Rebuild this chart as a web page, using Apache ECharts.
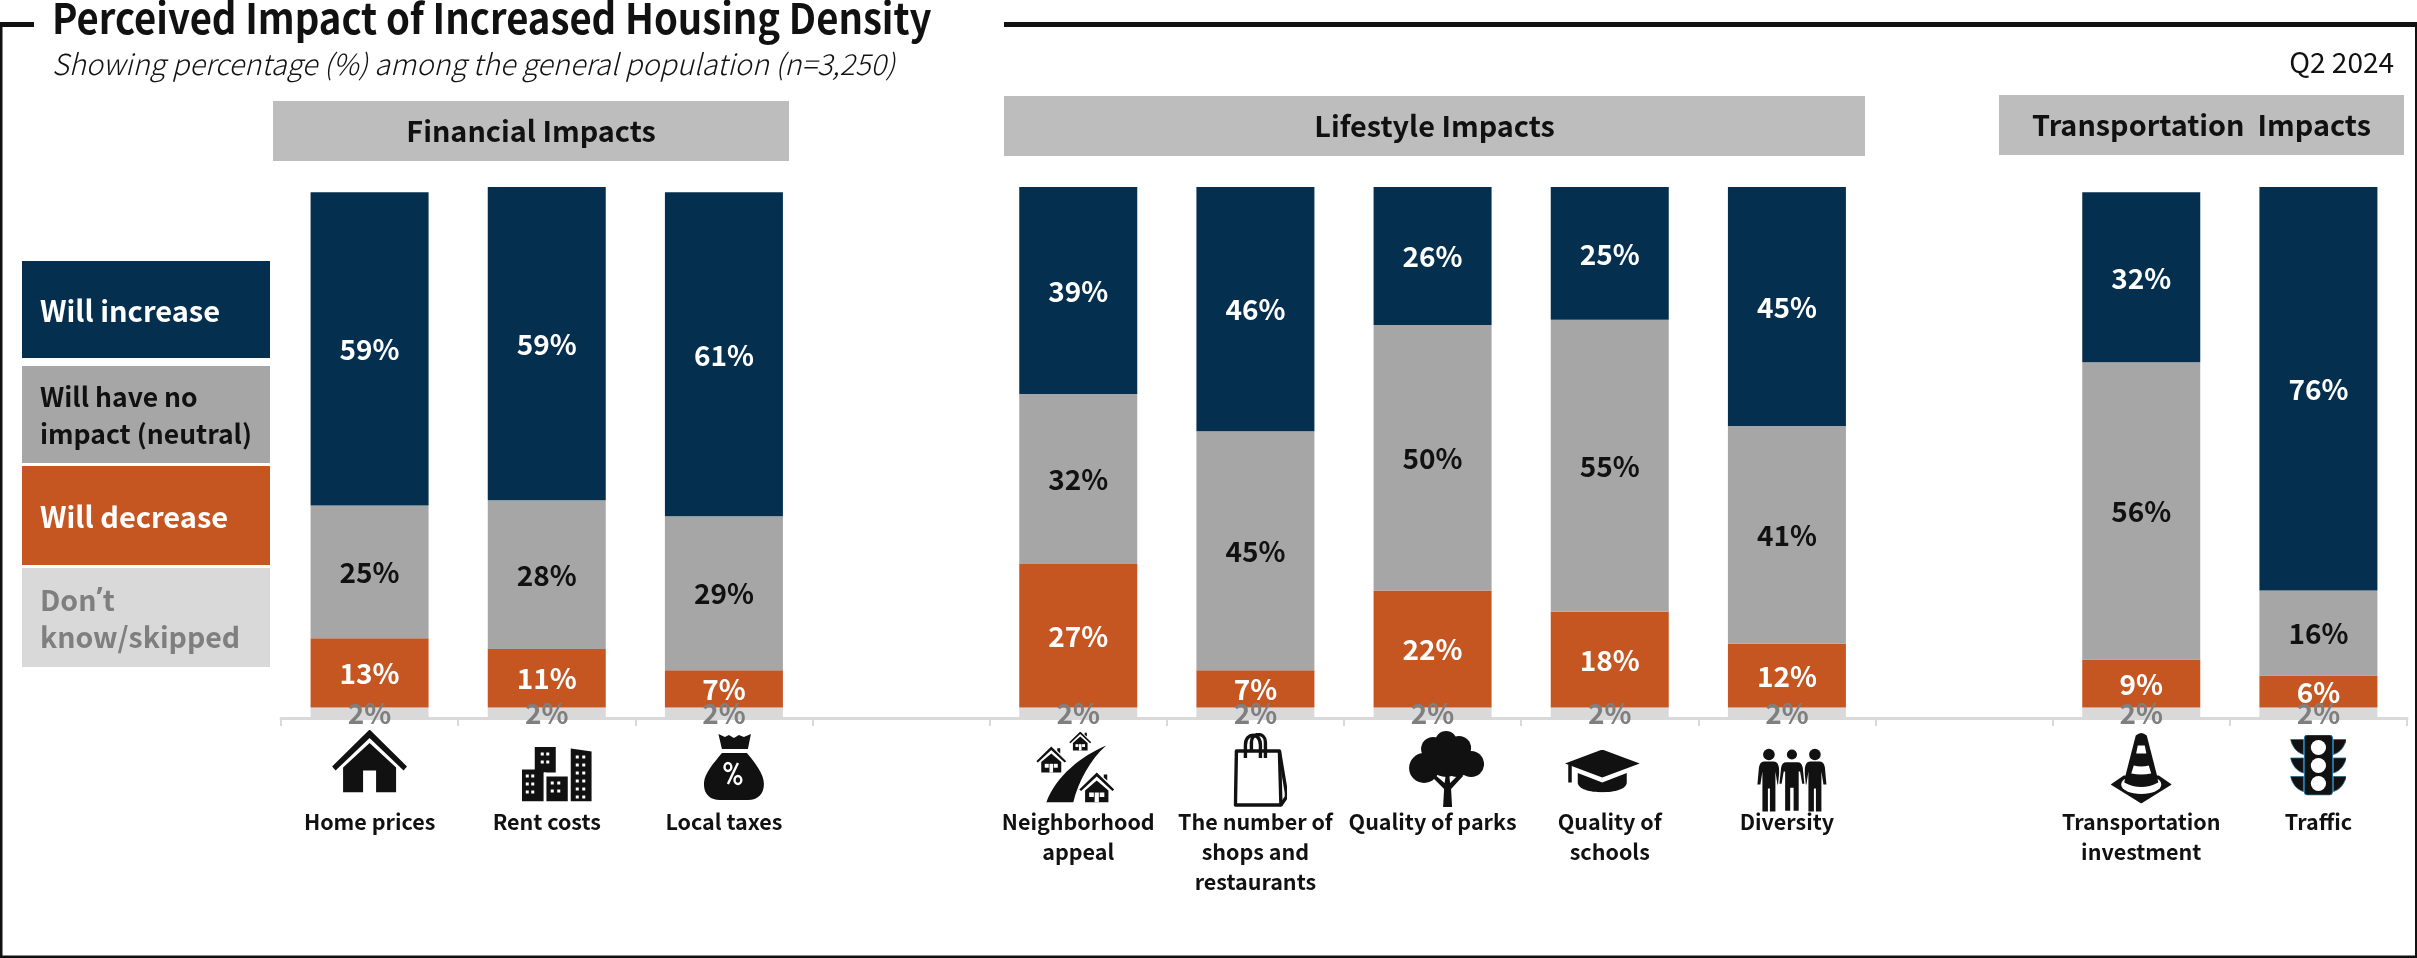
<!DOCTYPE html>
<html>
<head>
<meta charset="utf-8">
<style>html,body{margin:0;padding:0;background:#fff}#chart{width:2417px;height:958px}</style>
<script src="https://cdn.jsdelivr.net/npm/echarts@6/dist/echarts.min.js"></script>
</head>
<body>
<div id="chart"></div>
<script>
// Survey answers per topic; empty strings are spacer slots between the three topic groups.
const categories = ['Home prices', 'Rent costs', 'Local taxes', '',
  'Neighborhood\nappeal', 'The number of\nshops and\nrestaurants', 'Quality of parks', 'Quality of\nschools', 'Diversity', '',
  'Transportation\ninvestment', 'Traffic'];
const skipped  = [2, 2, 2, null, 2, 2, 2, 2, 2, null, 2, 2];
const decrease = [13, 11, 7, null, 27, 7, 22, 18, 12, null, 9, 6];
const neutral  = [25, 28, 29, null, 32, 45, 50, 55, 41, null, 56, 16];
const increase = [59, 59, 61, null, 39, 46, 26, 25, 45, null, 32, 76];

const seriesNames = ['Don’t know/skipped', 'Will decrease', 'Will have no impact (neutral)', 'Will increase'];
const FONT = '"Noto Sans CJK SC", "Noto Sans", sans-serif';
const INK = '#111111';
const NAVY = '#042f4f', GREY = '#a6a6a6', RUST = '#c55622', PALE = '#d9d9d9', MUTED = '#7f7f7f', BAND = '#bdbdbd';

// --- Topic icons, drawn as small inline SVGs ---
function svgIcon(w, h, body) {
  const svg = `<svg xmlns="http://www.w3.org/2000/svg" width="${w}" height="${h}" viewBox="0 0 ${w} ${h}" fill="${INK}">${body}</svg>`;
  return 'image://data:image/svg+xml;charset=utf-8,' + encodeURIComponent(svg);
}
function grid(x0, y0, dx, dy, nx, ny, s) {
  let out = '';
  for (let i = 0; i < nx; i++) for (let j = 0; j < ny; j++)
    out += `<rect x="${x0 + i * dx}" y="${y0 + j * dy}" width="${s}" height="${s}" fill="#fff"/>`;
  return out;
}
function cottage(x, y, w, h) {
  return `<g transform="translate(${x} ${y}) scale(${w / 30} ${h / 30})">
    <path d="M15 0L30 17l-1.6 1.6L15 4 1.6 18.6 0 17z"/>
    <path d="M21 2h3v6l-3-3z"/>
    <path d="M15 8L25 18V30H5V18z"/>
    <rect x="8.5" y="20" width="4" height="4.5" fill="#fff"/><rect x="17.5" y="20" width="4" height="4.5" fill="#fff"/>
    <rect x="13.2" y="20" width="3.6" height="10" fill="#fff"/></g>`;
}
function person(cx, s) {
  return `<circle cx="${cx}" cy="6" r="5.8"/>
    <path d="M${cx - 5 * s} 13H${cx + 5 * s}Q${cx + 9 * s} 13 ${cx + 10 * s} 19L${cx + 11.5 * s} 36H${cx + 8.5 * s}L${cx + 6.5 * s} 23V63H${cx + 1}V40H${cx - 1}V63H${cx - 6.5 * s}V23L${cx - 8.5 * s} 36H${cx - 11.5 * s}L${cx - 10 * s} 19Q${cx - 9 * s} 13 ${cx - 5 * s} 13Z"/>`;
}
const visor = 'M0 0H13V15C6 13 2 7 0 0Z';
const trafficVisors = [5, 23.5, 42].map(y =>
  `<path d="${visor}" transform="translate(0 ${y})" stroke="#1d6a96" stroke-width=".8"/>
   <path d="${visor}" transform="translate(56 ${y}) scale(-1 1)" stroke="#1d6a96" stroke-width=".8"/>`).join('');

const icons = [
  { w: 75, h: 63, dx: 0, cy: 761, body: `
    <path d="M37.5 0L75 37 71.5 41 37.5 8.5 3.5 41 0 37z"/>
    <path fill-rule="evenodd" d="M37.5 13.5L64 38V63H11V38zM31 41V63H44V41z"/>` },
  { w: 70, h: 55, dx: 10, cy: 774, body: `
    <rect x="0" y="23" width="22" height="32"/><rect x="13" y="0" width="21" height="26"/>
    <rect x="24.5" y="30" width="21.5" height="25"/><path d="M49 2L70 5V55H49z"/>
    <rect x="22" y="26" width="2.5" height="29" fill="#fff"/>
    ${grid(19, 6, 5.5, 8, 2, 2, 3)}${grid(4, 28, 5.5, 8, 2, 3, 3)}
    ${grid(29, 35, 6.5, 8, 2, 2, 3)}${grid(54, 9, 6.5, 8, 2, 6, 3)}` },
  { w: 60, h: 66, dx: 10, cy: 767, body: `
    <path d="M14.5 0L21 3 25 1 30 4 35 1 40 3 47 0 44 15H18z"/>
    <path d="M18 19H43C52 30 60 40 60 50 60 60 54 66 44 66H16C6 66 0 60 0 50 0 40 9 30 18 19Z"/>
    <g fill="none" stroke="#fff" stroke-width="2.4"><ellipse cx="24" cy="33" rx="3.4" ry="4"/><ellipse cx="34" cy="46" rx="3.4" ry="4"/></g>
    <path d="M34 29L24 50" stroke="#fff" stroke-width="2.4"/>` },
  { w: 78, h: 71, dx: -3, cy: 767, body: `
    <path d="M70 14C46 24 20 44 10 71H37C42 50 54 28 70 14Z"/>
    ${cottage(33, 0, 22, 19)}${cottage(0, 15, 30, 26)}${cottage(43, 41, 35, 30)}` },
  { w: 54, h: 74, dx: 5, cy: 770, body: `
    <g fill="none" stroke="${INK}" stroke-width="3.4" stroke-linejoin="round">
    <path d="M3 18H46L47.5 72H2Z"/><path d="M46 18L53 60V64L47.5 72"/>
    <path d="M12 25V12C12 -1 27 -1 27 12V25"/><path d="M18 18V9C18 -1 32 -1 32 9V25"/></g>` },
  { w: 75, h: 76, dx: 14, cy: 769, body: `
    <circle cx="37" cy="11" r="11"/><circle cx="24" cy="18" r="12"/><circle cx="50" cy="17" r="12"/>
    <circle cx="15" cy="37" r="15"/><circle cx="62" cy="33" r="13"/><circle cx="37" cy="27" r="19"/><circle cx="48" cy="34" r="12"/>
    <path d="M34 76L35 58 22 45 25 43 35.5 52 37 42 40 42 41 52 50 43 54 45 42 58 43 76Z"/>` },
  { w: 76, h: 43, dx: -7, cy: 771, body: `
    <path d="M37.5 0L75 14 37.5 28 0 14Z"/>
    <rect x="3.5" y="15" width="3.5" height="18"/>
    <path d="M13 23.5L37.5 33 62 23.5V33C62 46 13 46 13 33Z"/>` },
  { w: 72, h: 65, dx: 5, cy: 780, body: `<g transform="translate(1 1)">${person(12, 1)}${person(58, 1)}
    <g stroke="#fff" stroke-width="1.4">${person(35, 1.15)}</g></g>` },
  { w: 61, h: 71, dx: 0, cy: 768, body: `
    <path d="M30.5 71L61 52 48 43H13L0 52Z"/>
    <ellipse cx="30.5" cy="52" rx="20" ry="9.5" fill="#fff"/>
    <path d="M25 3Q30.5 -2 36 3L46 42 47.5 50Q30.5 59 13.5 50L15 42Z"/>
    <path d="M27 13H34L35.6 21H25.4ZM23 33Q30.5 35 38 33L40.5 41Q30.5 43 20.5 41Z" fill="#fff"/>` },
  { w: 56, h: 61, dx: 0, cy: 765, body: `${trafficVisors}
    <rect x="14" y=".5" width="28" height="60" rx="3" stroke="#1d6a96" stroke-width="1"/>
    <circle cx="28" cy="13" r="7.6" fill="#fff"/><circle cx="28" cy="31" r="7.6" fill="#fff"/><circle cx="28" cy="49" r="7.6" fill="#fff"/>` }
];

const topicSlots = categories.map((c, i) => c ? i : -1).filter(i => i >= 0);
const BASE_Y = 718;
const iconData = topicSlots.map((slot, k) => {
  const ic = icons[k];
  return {
    value: [slot, 0],
    symbol: svgIcon(ic.w, ic.h, ic.body),
    symbolSize: [ic.w, ic.h],
    symbolOffset: [ic.dx, ic.cy - BASE_Y]
  };
});

function stackSeries(name, data, color, labelColor) {
  return {
    name, type: 'bar', stack: 'total', data, barWidth: 118,
    itemStyle: { color },
    emphasis: { disabled: true },
    label: {
      show: true, position: 'inside', formatter: '{c}%', offset: [0, 0.6],
      color: labelColor, fontFamily: FONT, fontWeight: 'bold', fontSize: 28
    }
  };
}

// --- Legend blocks, topic bands and frame ---
const legendBlocks = [
  { y: 261, h: 97, fill: NAVY, ink: '#fff', size: 29, text: 'Will increase' },
  { y: 366, h: 97, fill: GREY, ink: INK, size: 26.5, text: 'Will have no\nimpact (neutral)' },
  { y: 466, h: 99, fill: RUST, ink: '#fff', size: 29, text: 'Will decrease' },
  { y: 568, h: 99, fill: PALE, ink: MUTED, size: 28.5, parts: [['Don', '’', 't'], ['know/skipped']] }
];
const bands = [
  { x: 273, y: 101, w: 516, h: 60, text: 'Financial Impacts' },
  { x: 1004, y: 96, w: 861, h: 60, text: 'Lifestyle Impacts' },
  { x: 1999, y: 95, w: 405, h: 60, text: 'Transportation  Impacts' }
];
const frame = [
  { x: 0, y: 22, w: 34, h: 5 }, { x: 1004, y: 22, w: 1413, h: 5 },
  { x: 0, y: 22, w: 2.5, h: 936 }, { x: 0, y: 955.5, w: 2417, h: 2.5 }, { x: 2415, y: 22, w: 2, h: 936 }
];

// The curly apostrophe is full-width in the CJK face, so it takes its glyph from Noto Sans.
function legendText(b) {
  const base = { fontFamily: FONT, fontWeight: 'bold', fontSize: b.size, lineHeight: 37, fill: b.ink };
  if (!b.parts) {
    return { text: b.text, fill: b.ink, font: `bold ${b.size}px ${FONT}`, lineHeight: 37, verticalAlign: 'middle', align: 'left' };
  }
  return {
    text: b.parts.map(line => line.map(p => p === '’' ? `{q|${p}}` : `{t|${p}}`).join('')).join('\n'),
    verticalAlign: 'middle', align: 'left',
    rich: { t: base, q: { ...base, fontFamily: '"Noto Sans", sans-serif' } }
  };
}

const graphics = [
  ...frame.map(f => ({ type: 'rect', shape: { x: f.x, y: f.y, width: f.w, height: f.h }, style: { fill: INK }, silent: true })),
  ...legendBlocks.flatMap(b => [
    { type: 'rect', shape: { x: 22, y: b.y, width: 248, height: b.h }, style: { fill: b.fill }, silent: true },
    { type: 'text', x: 40, y: b.y + b.h / 2 + 1, style: legendText(b), silent: true }
  ]),
  ...bands.flatMap(b => [
    { type: 'rect', shape: { x: b.x, y: b.y, width: b.w, height: b.h }, style: { fill: BAND }, silent: true },
    { type: 'text', x: b.x + b.w / 2, y: b.y + b.h / 2, style: { text: b.text, fill: INK, font: `bold 28.8px ${FONT}`, align: 'center', verticalAlign: 'middle' }, silent: true }
  ]),
  { type: 'text', x: 52, y: -3, scaleX: 0.911, style: { text: 'Perceived Impact of Increased Housing Density', fill: INK, font: `bold 42px ${FONT}`, align: 'left', verticalAlign: 'top' }, silent: true }
];

const chart = echarts.init(document.getElementById('chart'));
chart.setOption({
  backgroundColor: '#fff',
  animation: false,
  title: [
    { text: 'Showing percentage (%) among the general population (n=3,250)', left: 47, top: 45,
      textStyle: { fontFamily: FONT, fontWeight: 300, fontStyle: 'italic', fontSize: 28.9, color: INK } },
    { text: 'Q2 2024', right: 18, top: 43,
      textStyle: { fontFamily: FONT, fontWeight: 'normal', fontSize: 28, color: INK } }
  ],
  grid: { left: 281, right: 10, top: 187, height: 531, containLabel: false },
  xAxis: {
    type: 'category', data: categories, boundaryGap: true,
    axisLine: { lineStyle: { color: PALE, width: 3 } },
    axisTick: { show: true, alignWithLabel: false, length: 8, lineStyle: { color: PALE, width: 2 } },
    axisLabel: { interval: 0, margin: 89, color: INK, fontFamily: FONT, fontWeight: 'bold', fontSize: 21.5, lineHeight: 30 }
  },
  yAxis: { type: 'value', min: 0, max: 100, show: false },
  series: [
    stackSeries(seriesNames[0], skipped, PALE, MUTED),
    stackSeries(seriesNames[1], decrease, RUST, '#fff'),
    stackSeries(seriesNames[2], neutral, GREY, INK),
    stackSeries(seriesNames[3], increase, NAVY, '#fff'),
    { type: 'scatter', data: iconData, z: 5, clip: false, silent: true, itemStyle: { opacity: 1 }, label: { show: false } }
  ],
  graphic: graphics
});
</script>
</body>
</html>
